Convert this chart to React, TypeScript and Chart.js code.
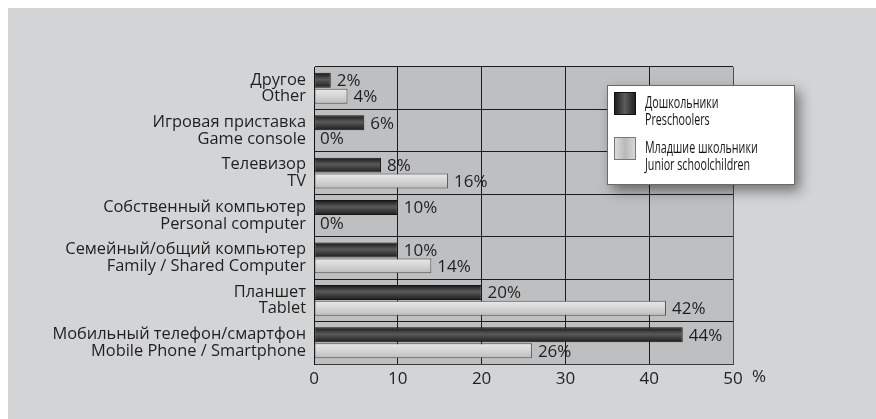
import React, { useEffect, useRef } from "react";
import { Chart, registerables } from "chart.js";

Chart.register(...registerables);

// ---- Data ----
const categories: string[][] = [
  ["Другое", "Other"],
  ["Игровая приставка", "Game console"],
  ["Телевизор", "TV"],
  ["Собственный компьютер", "Personal computer"],
  ["Семейный/общий компьютер", "Family / Shared Computer"],
  ["Планшет", "Tablet"],
  ["Мобильный телефон/смартфон", "Mobile Phone / Smartphone"],
];
const preschoolers: number[] = [2, 6, 8, 10, 10, 20, 44];
const juniorSchoolchildren: number[] = [4, 0, 16, 0, 14, 42, 26];
const seriesNames: string[][] = [
  ["Дошкольники", "Preschoolers"],
  ["Младшие школьники", "Junior schoolchildren"],
];
const xTickValues: number[] = [0, 10, 20, 30, 40, 50];
const axisUnit = "%";

// ---- Styles ----
const FONT = "'Open Sans', 'Noto Sans', sans-serif";
const TEXT = "#1f1f1f";
const PLOT_BG = "#bebfc1";
const PAGE_BG = "#d3d4d6";

const darkStops: [number, string][] = [
  [0, "#161616"],
  [0.45, "#5a5a5a"],
  [1, "#1c1c1c"],
];
const lightStops: [number, string][] = [
  [0, "#e9e9e9"],
  [0.55, "#d2d2d2"],
  [1, "#bcbcbc"],
];

const plotBackground = {
  id: "plotBackground",
  beforeDraw(chart: any) {
    const { ctx, chartArea } = chart;
    ctx.save();
    ctx.fillStyle = PLOT_BG;
    ctx.fillRect(chartArea.left, chartArea.top, chartArea.right - chartArea.left, chartArea.bottom - chartArea.top);
    ctx.restore();
  },
};

const barGradient = {
  id: "barGradient",
  beforeDatasetsDraw(chart: any) {
    const { ctx } = chart;
    chart.data.datasets.forEach((_ds: any, di: number) => {
      const meta = chart.getDatasetMeta(di);
      const stops = di === 0 ? darkStops : lightStops;
      meta.data.forEach((el: any) => {
        const { y, height } = el.getProps(["y", "height"], true);
        const g = ctx.createLinearGradient(0, y - height / 2, 0, y + height / 2);
        stops.forEach(([o, c]) => g.addColorStop(o, c));
        el.options = Object.assign({}, el.options, { backgroundColor: g });
      });
    });
  },
};

const valueLabels = {
  id: "valueLabels",
  afterDatasetsDraw(chart: any) {
    const { ctx } = chart;
    ctx.save();
    ctx.font = `17px ${FONT}`;
    ctx.fillStyle = TEXT;
    ctx.textAlign = "left";
    ctx.textBaseline = "middle";
    chart.data.datasets.forEach((ds: any, di: number) => {
      const meta = chart.getDatasetMeta(di);
      meta.data.forEach((el: any, i: number) => {
        const { x, y } = el.getProps(["x", "y"], true);
        ctx.fillText(`${ds.data[i]}%`, x + 6, y + 1);
      });
    });
    ctx.restore();
  },
};

const unitLabel = {
  id: "unitLabel",
  afterDraw(chart: any) {
    const { ctx } = chart;
    const xs = chart.scales.x;
    ctx.save();
    ctx.font = `17px ${FONT}`;
    ctx.fillStyle = TEXT;
    ctx.textAlign = "left";
    ctx.textBaseline = "top";
    ctx.fillText(axisUnit, xs.getPixelForValue(xTickValues[xTickValues.length - 1]) + 19, xs.top + 5);
    ctx.restore();
  },
};

const boxLegend = {
  id: "boxLegend",
  afterDraw(chart: any) {
    const { ctx, chartArea } = chart;
    const bx = chartArea.left + 293;
    const by = chartArea.top + 18;
    const bw = 188;
    const bh = 100;
    ctx.save();
    ctx.shadowColor = "rgba(0,0,0,0.45)";
    ctx.shadowBlur = 12;
    ctx.shadowOffsetX = 5;
    ctx.shadowOffsetY = 6;
    ctx.fillStyle = "#ffffff";
    ctx.fillRect(bx, by, bw, bh);
    ctx.restore();
    ctx.save();
    ctx.strokeStyle = "#6a6a6a";
    ctx.lineWidth = 1;
    ctx.strokeRect(bx + 0.5, by + 0.5, bw - 1, bh - 1);

    const swX = bx + 7;
    const swW = 22;
    const swH = 23;
    const rows = [by + 7, by + 52];
    rows.forEach((sy, i) => {
      const g = ctx.createLinearGradient(swX, 0, swX + swW, 0);
      if (i === 0) {
        g.addColorStop(0, "#1a1a1a");
        g.addColorStop(0.5, "#5c5c5c");
        g.addColorStop(1, "#1a1a1a");
      } else {
        g.addColorStop(0, "#dedede");
        g.addColorStop(0.5, "#b9b9b9");
        g.addColorStop(1, "#dadada");
      }
      ctx.fillStyle = g;
      ctx.fillRect(swX, sy, swW, swH);
      ctx.strokeStyle = i === 0 ? "#111" : "#777";
      ctx.strokeRect(swX + 0.5, sy + 0.5, swW - 1, swH - 1);

      ctx.fillStyle = "#141414";
      ctx.textAlign = "left";
      ctx.textBaseline = "alphabetic";
      ctx.font = `15.5px ${FONT}`;
      const tx = bx + 38;
      const lines = seriesNames[i];
      lines.forEach((line, li) => {
        ctx.save();
        ctx.translate(tx, sy + 16 + li * 17);
        ctx.scale(0.69, 1);
        ctx.fillText(line, 0, 0);
        ctx.restore();
      });
    });
    ctx.restore();
  },
};

export default function App() {
  const ref = useRef<HTMLCanvasElement | null>(null);

  useEffect(() => {
    if (!ref.current) return;
    const chart = new Chart(ref.current, {
      type: "bar",
      data: {
        labels: categories,
        datasets: [
          {
            label: seriesNames[0].join(" "),
            data: preschoolers,
            backgroundColor: "#333",
            borderColor: "#141414",
            borderWidth: 1,
            borderSkipped: false,
            categoryPercentage: 0.75,
            barPercentage: 0.94,
          },
          {
            label: seriesNames[1].join(" "),
            data: juniorSchoolchildren,
            backgroundColor: "#d0d0d0",
            borderColor: "#505050",
            borderWidth: 1,
            borderSkipped: false,
            categoryPercentage: 0.75,
            barPercentage: 0.94,
          },
        ],
      },
      options: {
        indexAxis: "y",
        animation: false,
        responsive: true,
        maintainAspectRatio: false,
        layout: { padding: { left: 0, right: 143, top: 59, bottom: 25 } },
        plugins: {
          legend: { display: false },
          tooltip: { enabled: false },
        },
        scales: {
          x: {
            type: "linear",
            min: 0,
            max: 50,
            afterBuildTicks(scale: any) {
              scale.ticks = xTickValues.map((v) => ({ value: v }));
            },
            afterFit(scale: any) {
              scale.height = 30;
            },
            ticks: {
              padding: 5,
              color: TEXT,
              font: { family: FONT, size: 17 },
            },
            grid: {
              drawTicks: false,
              lineWidth: 1,
              color: (c: any) => (c.tick && c.tick.value === 50 ? "#4e4e4e" : "#1c1c1c"),
            },
            border: { display: true, color: "#3a3a3a", width: 1 },
          },
          y: {
            afterFit(scale: any) {
              scale.width = 306;
            },
            ticks: {
              padding: 8,
              color: TEXT,
              font: { family: FONT, size: 16.4, lineHeight: 1.02 },
            },
            grid: {
              drawTicks: false,
              offset: true,
              lineWidth: 1,
              color: "#1c1c1c",
            },
            border: { display: true, color: "#111", width: 1 },
          },
        },
      },
      plugins: [plotBackground, barGradient, valueLabels, unitLabel, boxLegend],
    } as any);
    return () => chart.destroy();
  }, []);

  return (
    <div
      style={{
        position: "absolute",
        left: 8,
        top: 8,
        width: 868,
        height: 411,
        background: PAGE_BG,
      }}
    >
      <canvas ref={ref} />
    </div>
  );
}
